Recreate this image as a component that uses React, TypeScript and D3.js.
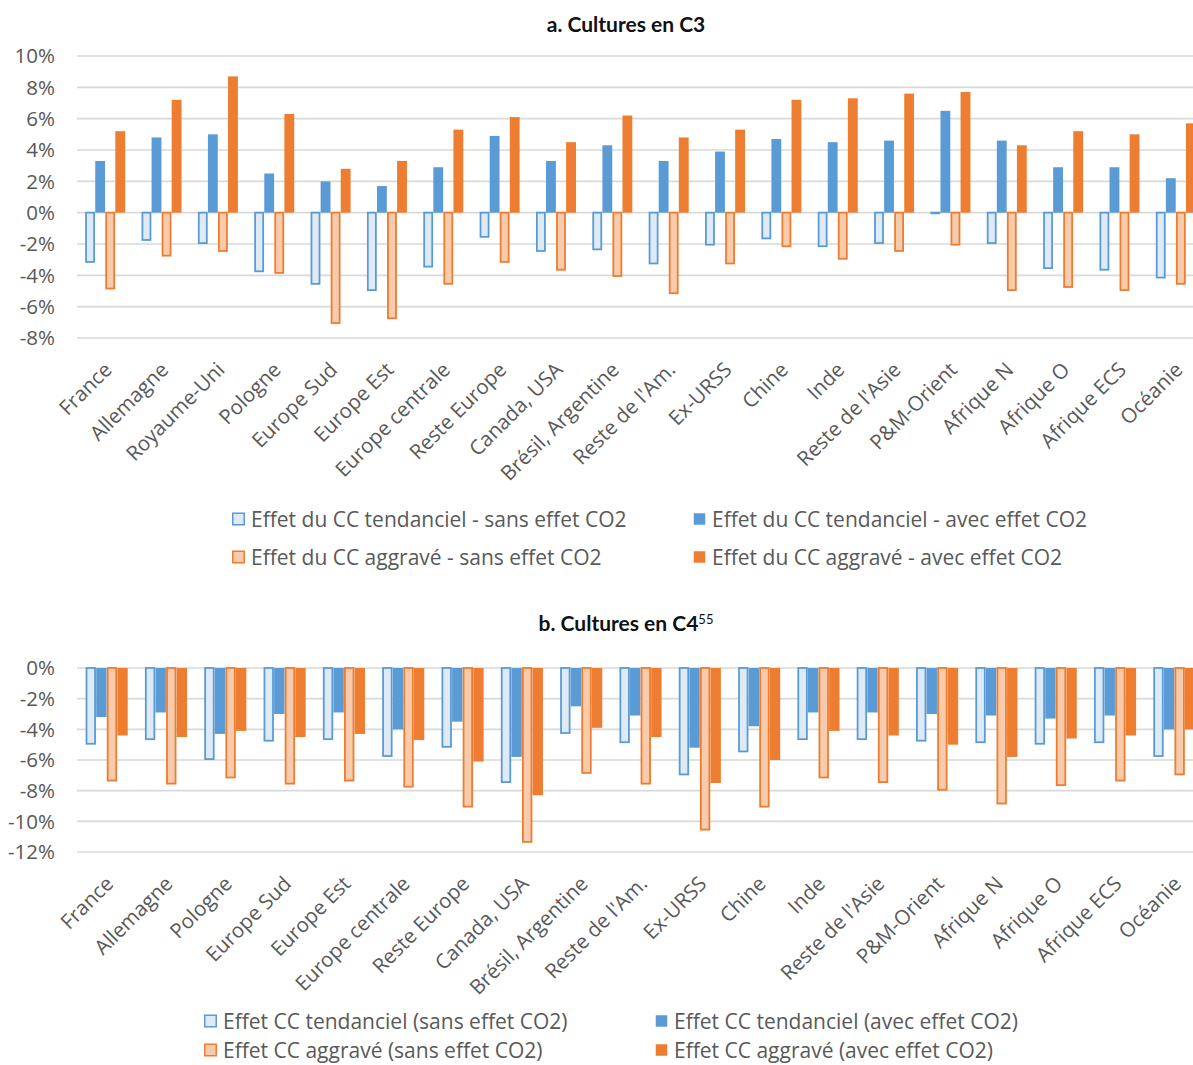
import React from 'react';
import * as d3 from 'd3';

// ---------- DATA ----------
const catsA = ['France', 'Allemagne', 'Royaume-Uni', 'Pologne', 'Europe Sud', 'Europe Est', 'Europe centrale', 'Reste Europe', 'Canada, USA', 'Brésil, Argentine', "Reste de l'Am.", 'Ex-URSS', 'Chine', 'Inde', "Reste de l'Asie", 'P&M-Orient', 'Afrique N', 'Afrique O', 'Afrique ECS', 'Océanie'];
const tendSansA = [-3.2, -1.8, -2.0, -3.8, -4.6, -5.0, -3.5, -1.6, -2.5, -2.4, -3.3, -2.1, -1.7, -2.2, -2.0, -0.1, -2.0, -3.6, -3.7, -4.2];
const tendAvecA = [3.3, 4.8, 5.0, 2.5, 2.0, 1.7, 2.9, 4.9, 3.3, 4.3, 3.3, 3.9, 4.7, 4.5, 4.6, 6.5, 4.6, 2.9, 2.9, 2.2];
const aggSansA = [-4.9, -2.8, -2.5, -3.9, -7.1, -6.8, -4.6, -3.2, -3.7, -4.1, -5.2, -3.3, -2.2, -3.0, -2.5, -2.1, -5.0, -4.8, -5.0, -4.6];
const aggAvecA = [5.2, 7.2, 8.7, 6.3, 2.8, 3.3, 5.3, 6.1, 4.5, 6.2, 4.8, 5.3, 7.2, 7.3, 7.6, 7.7, 4.3, 5.2, 5.0, 5.7];
const ticksA = [-8, -6, -4, -2, 0, 2, 4, 6, 8, 10];
const legendA = ['Effet du CC tendanciel - sans effet CO2', 'Effet du CC tendanciel - avec effet CO2', 'Effet du CC aggravé - sans effet CO2', 'Effet du CC aggravé - avec effet CO2'];
const titleA = 'a. Cultures en C3';

const catsB = ['France', 'Allemagne', 'Pologne', 'Europe Sud', 'Europe Est', 'Europe centrale', 'Reste Europe', 'Canada, USA', 'Brésil, Argentine', "Reste de l'Am.", 'Ex-URSS', 'Chine', 'Inde', "Reste de l'Asie", 'P&M-Orient', 'Afrique N', 'Afrique O', 'Afrique ECS', 'Océanie'];
const tendSansB = [-5.0, -4.7, -6.0, -4.8, -4.7, -5.8, -5.2, -7.5, -4.3, -4.9, -7.0, -5.5, -4.7, -4.7, -4.8, -4.9, -5.0, -4.9, -5.8];
const tendAvecB = [-3.2, -2.9, -4.3, -3.0, -2.9, -4.0, -3.5, -5.8, -2.5, -3.1, -5.2, -3.8, -2.9, -2.9, -3.0, -3.1, -3.3, -3.1, -4.0];
const aggSansB = [-7.4, -7.6, -7.2, -7.6, -7.4, -7.8, -9.1, -11.4, -6.9, -7.6, -10.6, -9.1, -7.2, -7.5, -8.0, -8.9, -7.7, -7.4, -7.0];
const aggAvecB = [-4.4, -4.5, -4.1, -4.5, -4.3, -4.7, -6.1, -8.3, -3.9, -4.5, -7.5, -6.0, -4.1, -4.4, -5.0, -5.8, -4.6, -4.4, -4.0];
const ticksB = [-12, -10, -8, -6, -4, -2, 0];
const legendB = ['Effet CC tendanciel (sans effet CO2)', 'Effet CC tendanciel (avec effet CO2)', 'Effet CC aggravé (sans effet CO2)', 'Effet CC aggravé (avec effet CO2)'];
const titleB = 'b. Cultures en C4';
const titleBSup = '55';

// ---------- STYLE ----------
const FONT = '"Open Sans", Lato, sans-serif';
const TITLE_FONT = 'Lato, "Open Sans", sans-serif';
const TEXT = '#595959';
const GRID = '#D9D9D9';
const BLUE = '#5B9BD5';
const BLUE_L = '#DEEBF7';
const ORANGE = '#ED7D31';
const ORANGE_L = '#F8CBAD';
const seriesStyle = [
  { fill: BLUE_L, stroke: BLUE, outline: true },
  { fill: BLUE, stroke: BLUE, outline: false },
  { fill: ORANGE_L, stroke: ORANGE, outline: true },
  { fill: ORANGE, stroke: ORANGE, outline: false },
];

const X0 = 77;
const X1 = 1204;

type PanelProps = {
  cats: string[];
  series: number[][];
  ticks: number[];
  yTop: number;
  yBottom: number;
};

function Panel({ cats, series, ticks, yTop, yBottom }: PanelProps) {
  const dom = d3.extent(ticks) as [number, number];
  const y = d3.scaleLinear().domain(dom).range([yBottom, yTop]);
  const x = d3.scaleBand<string>().domain(cats).range([X0, X1]).paddingInner(0).paddingOuter(0);
  const bw = x.bandwidth();
  const inner = d3
    .scaleBand<number>()
    .domain([0, 1, 2, 3])
    .range([bw * 0.145, bw * 0.855])
    .paddingInner(0.02);
  const w = inner.bandwidth();
  const axisY = y(dom[0]);
  return (
    <g>
      {ticks.map((t) => (
        <g key={t}>
          <line x1={X0} x2={X1} y1={y(t)} y2={y(t)} stroke={GRID} strokeWidth={1.6} />
          <text x={55} y={y(t)} dy="0.36em" textAnchor="end" fill={TEXT} fontSize={20.5} fontFamily={FONT}>
            {`${t}%`}
          </text>
        </g>
      ))}
      {cats.map((c, i) => (
        <g key={c} transform={`translate(${x(c)},0)`}>
          {series.map((vals, s) => {
            const v = vals[i];
            const st = seriesStyle[s];
            const y0 = y(0);
            const yv = y(v);
            const top = Math.min(y0, yv);
            const h = Math.abs(yv - y0);
            const bx = inner(s)!;
            if (st.outline) {
              return (
                <rect
                  key={s}
                  x={bx + 0.9}
                  y={top}
                  width={Math.max(w - 1.8, 0)}
                  height={Math.max(h - 0.9, 0)}
                  fill={st.fill}
                  stroke={st.stroke}
                  strokeWidth={1.8}
                />
              );
            }
            return <rect key={s} x={bx} y={top} width={w} height={h} fill={st.fill} />;
          })}
          <text
            transform={`translate(${bw / 2 + 8},${axisY + 33}) rotate(-45)`}
            textAnchor="end"
            fill={TEXT}
            fontSize={20.5}
            fontFamily={FONT}
          >
            {c}
          </text>
        </g>
      ))}
    </g>
  );
}

type LegendProps = { labels: string[]; xs: number[]; ys: number[]; gap: number };
function Legend({ labels, xs, ys, gap }: LegendProps) {
  return (
    <g>
      {labels.map((l, i) => {
        const st = seriesStyle[i];
        const lx = xs[i % 2];
        const ly = ys[Math.floor(i / 2)];
        return (
          <g key={l}>
            <rect
              x={lx + 0.75}
              y={ly - 6.5 + 0.75}
              width={11.5}
              height={11.5}
              fill={st.fill}
              stroke={st.stroke}
              strokeWidth={st.outline ? 1.5 : 0}
            />
            <text x={lx + gap} y={ly} dy="0.36em" fill={TEXT} fontSize={21} fontFamily={FONT}>
              {l}
            </text>
          </g>
        );
      })}
    </g>
  );
}

export default function App() {
  return (
    <svg
      width={1193}
      height={1065}
      style={{ position: 'absolute', left: 0, top: 0, background: '#fff' }}
      xmlns="http://www.w3.org/2000/svg"
    >
      <rect width={1193} height={1065} fill="#fff" />
      <text x={626} y={25} dy="0.35em" textAnchor="middle" fontSize={21} fontWeight={700} fontFamily={TITLE_FONT} fill="#111">
        {titleA}
      </text>
      <Panel cats={catsA} series={[tendSansA, tendAvecA, aggSansA, aggAvecA]} ticks={ticksA} yTop={56} yBottom={338} />
      <Legend labels={legendA} xs={[232, 693]} ys={[519, 557]} gap={19} />

      <text x={626} y={624} dy="0.35em" textAnchor="middle" fontSize={21} fontWeight={700} fontFamily={TITLE_FONT} fill="#111">
        {titleB}
        <tspan fontSize={13} fontWeight={400} dy="-0.55em">
          {titleBSup}
        </tspan>
      </text>
      <Panel cats={catsB} series={[tendSansB, tendAvecB, aggSansB, aggAvecB]} ticks={ticksB} yTop={668} yBottom={852} />
      <Legend labels={legendB} xs={[204, 655]} ys={[1021, 1050]} gap={19} />
    </svg>
  );
}
